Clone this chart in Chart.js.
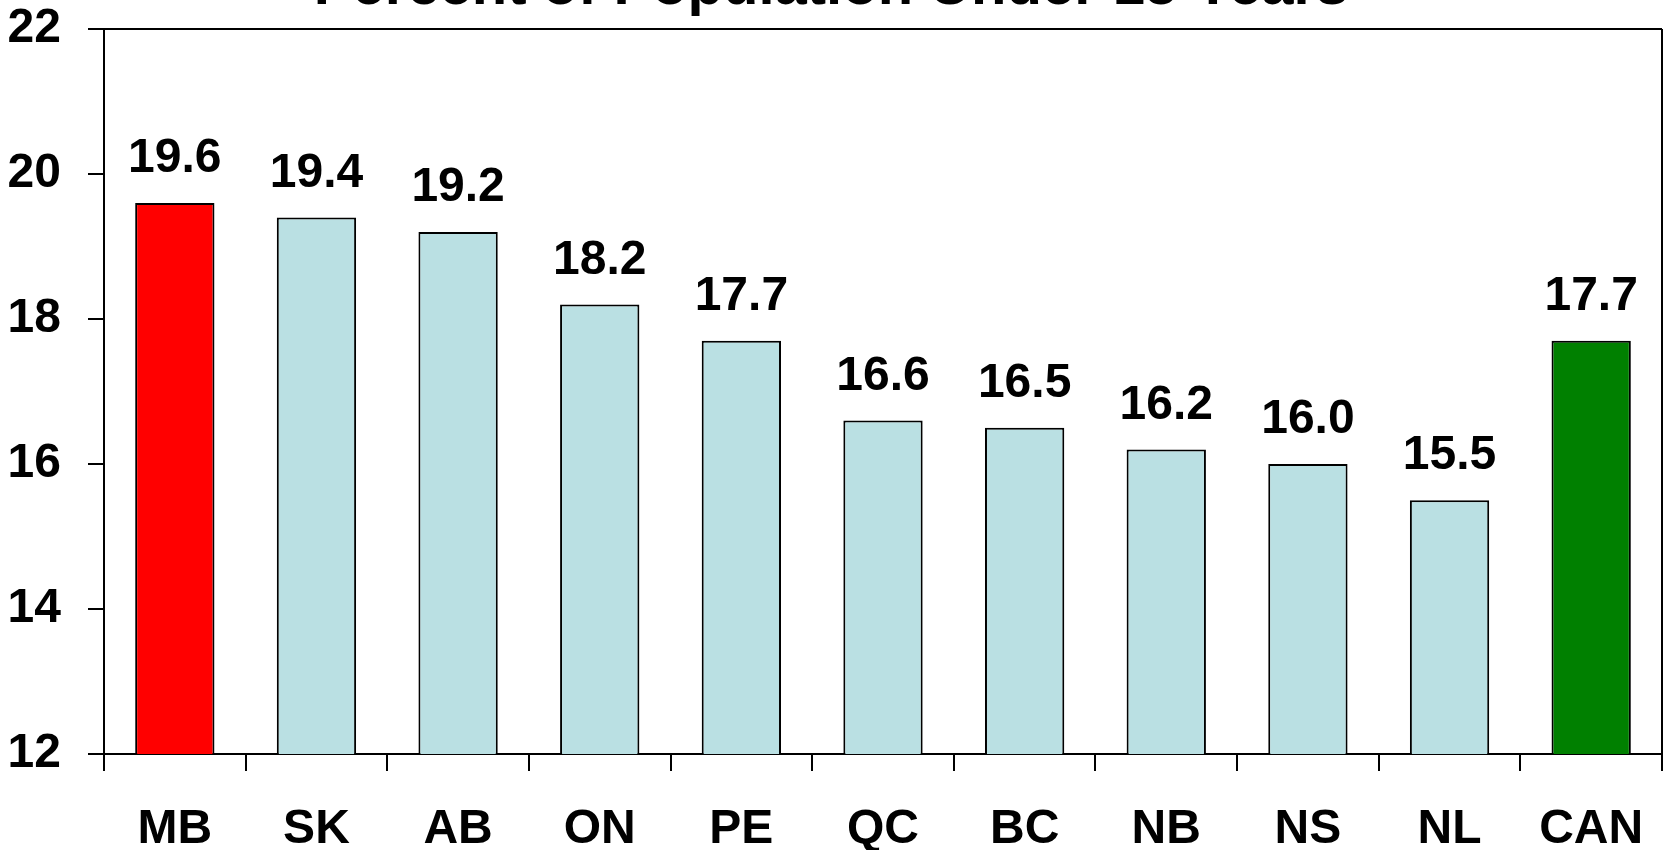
<!DOCTYPE html>
<html>
<head>
<meta charset="utf-8">
<script src="https://cdn.jsdelivr.net/npm/chart.js@4.4.0/dist/chart.umd.min.js"></script>
<style>
  html, body { margin: 0; padding: 0; background: #fff; }
  #frame { width: 1665px; height: 850px; overflow: hidden; position: relative; }
  /* the title of the original is clipped at the top, so the canvas sits a bit higher */
  #wrap { position: absolute; left: 0; top: -60px; width: 1665px; height: 930px; }
</style>
</head>
<body>
<div id="frame"><div id="wrap"><canvas id="grafico"></canvas></div></div>
<script>
const provincias = ['MB', 'SK', 'AB', 'ON', 'PE', 'QC', 'BC', 'NB', 'NS', 'NL', 'CAN'];
const percentual = [19.6, 19.4, 19.2, 18.2, 17.7, 16.6, 16.5, 16.2, 16.0, 15.5, 17.7];
const cores = ['#FF0000', '#BAE0E3', '#BAE0E3', '#BAE0E3', '#BAE0E3', '#BAE0E3',
               '#BAE0E3', '#BAE0E3', '#BAE0E3', '#BAE0E3', '#008000'];
const yTicks = [12, 14, 16, 18, 20, 22];

const FONTE = "'Liberation Sans', Arial, sans-serif";

// numbers above the bars
const rotulos = {
    id: 'rotulos',
    afterDatasetsDraw(chart) {
        const ctx = chart.ctx;
        const meta = chart.getDatasetMeta(0);
        ctx.save();
        ctx.font = `bold 48px ${FONTE}`;
        ctx.fillStyle = '#000';
        ctx.textAlign = 'center';
        ctx.textBaseline = 'alphabetic';
        meta.data.forEach((bar, i) => {
            ctx.fillText(percentual[i].toFixed(1), bar.x, bar.y - 31);
        });
        ctx.restore();
    }
};

new Chart(document.getElementById('grafico').getContext('2d'), {
    type: 'bar',
    data: {
        labels: provincias,
        datasets: [{
            data: percentual,
            backgroundColor: cores,
            borderColor: '#000',
            borderWidth: 2,
            borderSkipped: false,
            barPercentage: 0.56,
            categoryPercentage: 1
        }]
    },
    options: {
        responsive: true,
        maintainAspectRatio: false,
        animation: false,
        layout: { padding: { left: 0, right: 3, bottom: 16 } },
        plugins: {
            legend: { display: false },
            tooltip: { enabled: false },
            title: {
                display: true,
                text: 'Percent of Population Under 15 Years',
                color: '#000',
                font: { family: FONTE, size: 58, weight: 'bold', lineHeight: 1 },
                padding: { top: 19, bottom: 12 }
            }
        },
        scales: {
            x: {
                grid: {
                    offset: true,
                    drawOnChartArea: true,
                    // only the closing line on the right side
                    color: c => c.type === 'tick' ? 'rgba(0,0,0,0)' : '#000',
                    tickColor: '#000',
                    tickLength: 17,
                    lineWidth: 2
                },
                border: { display: true, color: '#000', width: 2 },
                ticks: {
                    color: '#000',
                    padding: 35,
                    maxRotation: 0,
                    font: { family: FONTE, size: 48, weight: 'bold', lineHeight: 1 }
                },
                afterFit: axis => {
                    axis.height = 100;
                    axis.paddingLeft = 0;
                    axis.paddingRight = 0;
                }
            },
            y: {
                min: 12,
                max: 22,
                afterBuildTicks: axis => { axis.ticks = yTicks.map(v => ({ value: v })); },
                grid: {
                    drawOnChartArea: true,
                    color: c => (c.tick && c.tick.value === 22) ? '#000' : 'rgba(0,0,0,0)',
                    tickColor: '#000',
                    tickLength: 16,
                    lineWidth: 2
                },
                border: { display: true, color: '#000', width: 2 },
                ticks: {
                    color: '#000',
                    padding: 27,
                    font: { family: FONTE, size: 48, weight: 'bold', lineHeight: 1 }
                },
                afterFit: axis => {
                    axis.width = 104;
                    axis.paddingTop = 0;
                    axis.paddingBottom = 0;
                }
            }
        }
    },
    plugins: [rotulos]
});
</script>
</body>
</html>
